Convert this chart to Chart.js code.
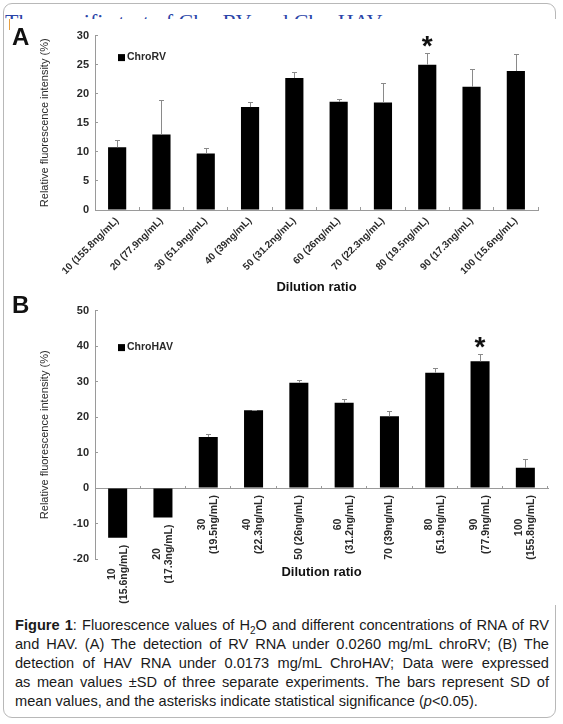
<!DOCTYPE html>
<html>
<head>
<meta charset="utf-8">
<script src="https://cdn.jsdelivr.net/npm/chart.js@4.4.0/dist/chart.umd.min.js"></script>
<style>
body{margin:0;width:563px;height:724px;position:relative;background:#fff;overflow:hidden;font-family:Arial,"Liberation Sans",sans-serif}
#frame{position:absolute;left:3px;top:3px;width:551px;height:713px;border:1.5px solid #b8b8b8;border-radius:9px}
#title{position:absolute;left:5px;top:11px;font:22px/22px "Liberation Serif","Times New Roman",serif;color:#2b45a8;white-space:nowrap}
#cursor{position:absolute;left:9px;top:19px;width:1px;height:11px;background:#e8a040;z-index:5}
.pane{position:absolute;left:4px;width:552px;background:#fff}
#paneA{top:19px;height:276px}
#paneA canvas{margin-top:1px;display:block}
#paneB{top:295px;height:310px}
.letter{position:absolute;left:12px;font:bold 24px/24px Arial,"Liberation Sans",sans-serif;color:#111;z-index:5}
#caption{position:absolute;left:15px;top:616px;width:534px;font-size:14.6px;line-height:19px;color:#1a1a1a}
#caption div{text-align:justify;text-align-last:justify;white-space:nowrap}
#caption div.last{text-align-last:left}
</style>
</head>
<body>
<div id="frame"></div>
<div id="title">The specific test of ChroRV and ChroHAV</div>
<div class="pane" id="paneA"><canvas id="chartA" width="552" height="275"></canvas></div>
<div class="pane" id="paneB"><canvas id="chartB" width="552" height="310"></canvas></div>
<div id="cursor"></div>
<div class="letter" style="top:25px">A</div>
<div class="letter" style="top:293px">B</div>
<div id="caption">
<div><b>Figure 1</b>: Fluorescence values of H<sub style="font-size:10px;line-height:0">2</sub>O and different concentrations of RNA of RV</div>
<div>and HAV. (A) The detection of RV RNA under 0.0260 mg/mL chroRV; (B) The</div>
<div>detection of HAV RNA under 0.0173 mg/mL ChroHAV; Data were expressed</div>
<div>as mean values ±SD of three separate experiments. The bars represent SD of</div>
<div class="last">mean values, and the asterisks indicate statistical significance (<i>p</i>&lt;0.05).</div>
</div>
<script>
// panel A: ChroRV
let dilutionA = ["10 (155.8ng/mL)", "20 (77.9ng/mL)", "30 (51.9ng/mL)", "40 (39ng/mL)", "50 (31.2ng/mL)",
  "60 (26ng/mL)", "70 (22.3ng/mL)", "80 (19.5ng/mL)", "90 (17.3ng/mL)", "100 (15.6ng/mL)"];
let chroRV = [10.8, 13.0, 9.7, 17.7, 22.7, 18.6, 18.5, 25.0, 21.2, 23.9];
let chroRVsd = [1.3, 5.9, 0.9, 0.9, 1.0, 0.5, 3.3, 2.0, 3.0, 2.9];
let starA = 7; // index of the significant bar

// panel B: ChroHAV
let dilutionB = [["10", "(15.6ng/mL)"], ["20", "(17.3ng/mL)"], ["30", "(19.5ng/mL)"], ["40", "(22.3ng/mL)"],
  ["50 (26ng/mL)"], ["60", "(31.2ng/mL)"], ["70 (39ng/mL)"], ["80", "(51.9ng/mL)"], ["90", "(77.9ng/mL)"],
  ["100", "(155.8ng/mL)"]];
let chroHAV = [-14.0, -8.3, 14.4, 21.9, 29.7, 24.0, 20.2, 32.5, 35.7, 5.7];
let chroHAVsd = [null, null, 0.8, 0.2, 0.7, 1.0, 1.5, 1.4, 2.0, 2.4];
let starB = 8;

let yTitle = "Relative fluorescence intensity (%)";
let xTitle = "Dilution ratio";

const AXIS = "#9a9a9a";
const TXT = "#2a2a2a";
const FONT = "Arial, 'Liberation Sans', sans-serif";

// error bars, asterisk, legend (and for B the labels under the zero line)
function extras(sd, star, legendText, legendDy, drawLabels) {
  return {
    id: "extras",
    afterDatasetsDraw(chart) {
      let ctx = chart.ctx;
      let y = chart.scales.y;
      let area = chart.chartArea;
      let values = chart.data.datasets[0].data;
      let bars = chart.getDatasetMeta(0).data;
      ctx.save();
      bars.forEach((bar, i) => {
        if (sd[i] == null) return;
        let x = Math.round(bar.x) + 0.5;
        let top = Math.round(y.getPixelForValue(values[i] + sd[i])) + 0.5;
        ctx.strokeStyle = "#8a8a8a";
        ctx.lineWidth = 1;
        ctx.beginPath();
        ctx.moveTo(x, bar.y);
        ctx.lineTo(x, top);
        ctx.moveTo(x - 2.5, top);
        ctx.lineTo(x + 2.5, top);
        ctx.stroke();
        if (i === star) {
          ctx.fillStyle = "#111";
          ctx.font = "bold 28px " + FONT;
          ctx.textAlign = "center";
          ctx.textBaseline = "alphabetic";
          ctx.fillText("*", bar.x, top + 1);
        }
      });
      // legend
      let lx = area.left + 23, ly = area.top + legendDy;
      ctx.fillStyle = "#000";
      ctx.fillRect(lx, ly - 3.5, 7, 7);
      ctx.fillStyle = TXT;
      ctx.font = "bold 10.5px " + FONT;
      ctx.textAlign = "left";
      ctx.textBaseline = "middle";
      ctx.fillText(legendText, lx + 9, ly);
      if (drawLabels) {
        let xs = chart.scales.x;
        let zero = y.getPixelForValue(0);
        ctx.font = "bold 10.5px " + FONT;
        ctx.fillStyle = TXT;
        ctx.textAlign = "center";
        ctx.textBaseline = "middle";
        chart.data.labels.forEach((lines, i) => {
          let cx = xs.getPixelForValue(i);
          let start = Math.max(zero, y.getPixelForValue(values[i])) + 7;
          let w = Math.max(...lines.map(t => ctx.measureText(t).width));
          lines.forEach((t, j) => {
            ctx.save();
            ctx.translate(cx + (j - (lines.length - 1) / 2) * 12, start + w / 2);
            ctx.rotate(-Math.PI / 2);
            ctx.fillText(t, 0, 0);
            ctx.restore();
          });
        });
        ctx.font = "bold 13px " + FONT;
        ctx.fillStyle = "#111";
        ctx.fillText(xTitle, (area.left + area.right) / 2, area.bottom + 13);
      }
      ctx.restore();
    }
  };
}

function yAxis(min, max, step) {
  return {
    min: min, max: max,
    afterFit: s => { s.width = 65; },
    border: { color: AXIS, width: 1 },
    grid: { drawOnChartArea: false, color: AXIS, tickLength: -3 },
    ticks: { stepSize: step, padding: 9, color: TXT, font: { family: FONT, size: 11, weight: "bold" } },
    title: { display: true, text: yTitle, color: TXT, padding: { top: 8, bottom: 0 },
      font: { family: FONT, size: 11 } }
  };
}

new Chart(document.getElementById("chartA"), {
  type: "bar",
  data: {
    labels: dilutionA,
    datasets: [{ label: "ChroRV", data: chroRV, backgroundColor: "#000",
      barPercentage: 0.41, categoryPercentage: 1 }]
  },
  options: {
    responsive: false,
    animation: false,
    layout: { padding: { left: 26, top: 12, right: 18, bottom: 0 } },
    plugins: { legend: { display: false }, tooltip: { enabled: false } },
    scales: {
      x: {
        afterFit: s => { s.height = 85; },
        border: { color: AXIS, width: 1 },
        grid: { drawOnChartArea: false, color: AXIS, tickLength: -3 },
        ticks: { minRotation: 45, maxRotation: 45, padding: 8, color: TXT,
          font: { family: FONT, size: 10, weight: "bold" } },
        title: { display: true, text: xTitle, color: "#111", padding: 0,
          font: { family: FONT, size: 13, weight: "bold" } }
      },
      y: yAxis(0, 30, 5)
    }
  },
  plugins: [extras(chroRVsd, starA, "ChroRV", 22, false)]
});

new Chart(document.getElementById("chartB"), {
  type: "bar",
  data: {
    labels: dilutionB,
    datasets: [{ label: "ChroHAV", data: chroHAV, backgroundColor: "#000",
      barPercentage: 0.42, categoryPercentage: 1 }]
  },
  options: {
    responsive: false,
    animation: false,
    layout: { padding: { left: 26, top: 6, right: 8, bottom: 46 } },
    plugins: { legend: { display: false }, tooltip: { enabled: false } },
    scales: {
      x: {
        position: { y: 0 },
        afterFit: s => { s.height = 0; },
        border: { color: AXIS, width: 1 },
        grid: { drawOnChartArea: false, color: AXIS, tickLength: -3 },
        ticks: { display: false }
      },
      y: yAxis(-20, 50, 10)
    }
  },
  plugins: [extras(chroHAVsd, starB, "ChroHAV", 37, true)]
});
</script>
</body>
</html>
